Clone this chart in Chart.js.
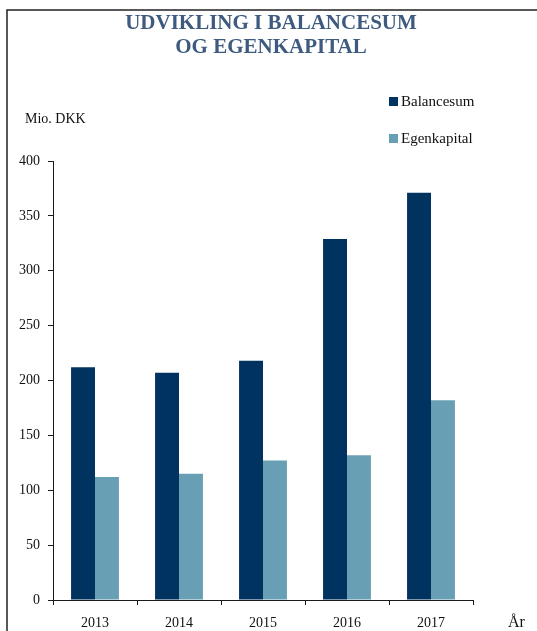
<!DOCTYPE html>
<html>
<head>
<meta charset="utf-8">
<title>Udvikling i balancesum og egenkapital</title>
<script src="https://cdn.jsdelivr.net/npm/chart.js@4/dist/chart.umd.min.js"></script>
<style>
    html, body { margin: 0; padding: 0; background: #fff; }
    #wrap { width: 537px; height: 631px; }
</style>
</head>
<body>
<div id="wrap"><canvas id="chart" width="537" height="631"></canvas></div>
<script>
const years = ["2013", "2014", "2015", "2016", "2017"]
const balancesum = [212, 207, 218, 329, 371]
const egenkapital = [112, 115, 127, 132, 182]
const seriesNames = ["Balancesum", "Egenkapital"]
const seriesColors = ["#00335f", "#699fb4"]

const serif = "'Liberation Serif', 'DejaVu Serif', serif"
const axisColor = "#1a1a1a"

// frame, title, unit labels and the small legend on the right
const extras = {
    id: "extras",
    afterDraw(chart) {
        const ctx = chart.ctx
        ctx.save()

        ctx.strokeStyle = "#222"
        ctx.lineWidth = 1.5
        ctx.beginPath()
        ctx.moveTo(7, 631)
        ctx.lineTo(7, 10)
        ctx.lineTo(537, 10)
        ctx.stroke()

        ctx.fillStyle = "#3e5b7f"
        ctx.font = "bold 21px " + serif
        ctx.textAlign = "center"
        ctx.textBaseline = "middle"
        ctx.fillText("UDVIKLING I BALANCESUM", 271, 24)
        ctx.fillText("OG EGENKAPITAL", 271, 48)

        ctx.fillStyle = "#111"
        ctx.font = "14px " + serif
        ctx.textAlign = "left"
        ctx.fillText("Mio. DKK", 25, 119)

        ctx.font = "16px " + serif
        ctx.fillText("År", 508, 623)

        ctx.font = "15px " + serif
        const legendY = [101, 138]
        seriesNames.forEach((name, i) => {
            ctx.fillStyle = seriesColors[i]
            ctx.fillRect(389, legendY[i] - 4, 9, 9)
            ctx.fillStyle = "#111"
            ctx.fillText(name, 401, legendY[i] + 1)
        })

        ctx.restore()
    }
}

new Chart(document.getElementById("chart"), {
    type: "bar",
    data: {
        labels: years,
        datasets: [
            { label: seriesNames[0], data: balancesum, backgroundColor: seriesColors[0] },
            { label: seriesNames[1], data: egenkapital, backgroundColor: seriesColors[1] }
        ]
    },
    options: {
        responsive: false,
        animation: false,
        devicePixelRatio: 1,
        layout: { padding: { left: 7, right: 64, top: 161, bottom: 0 } },
        categoryPercentage: 0.57,
        barPercentage: 1,
        plugins: {
            legend: { display: false },
            tooltip: { enabled: false }
        },
        scales: {
            x: {
                afterFit: s => { s.height = 31 },
                border: { display: true, color: axisColor, width: 1 },
                grid: { drawOnChartArea: false, drawTicks: true, tickLength: 5, color: axisColor, offset: true },
                ticks: { color: "#111", padding: 10, font: { family: serif, size: 14 }, maxRotation: 0 }
            },
            y: {
                min: 0,
                max: 400,
                afterFit: s => { s.width = 46 },
                border: { display: true, color: axisColor, width: 1 },
                grid: { drawOnChartArea: false, drawTicks: true, tickLength: 5, color: axisColor },
                ticks: { stepSize: 50, color: "#111", padding: 8, font: { family: serif, size: 14 } }
            }
        }
    },
    plugins: [extras]
})
</script>
</body>
</html>
